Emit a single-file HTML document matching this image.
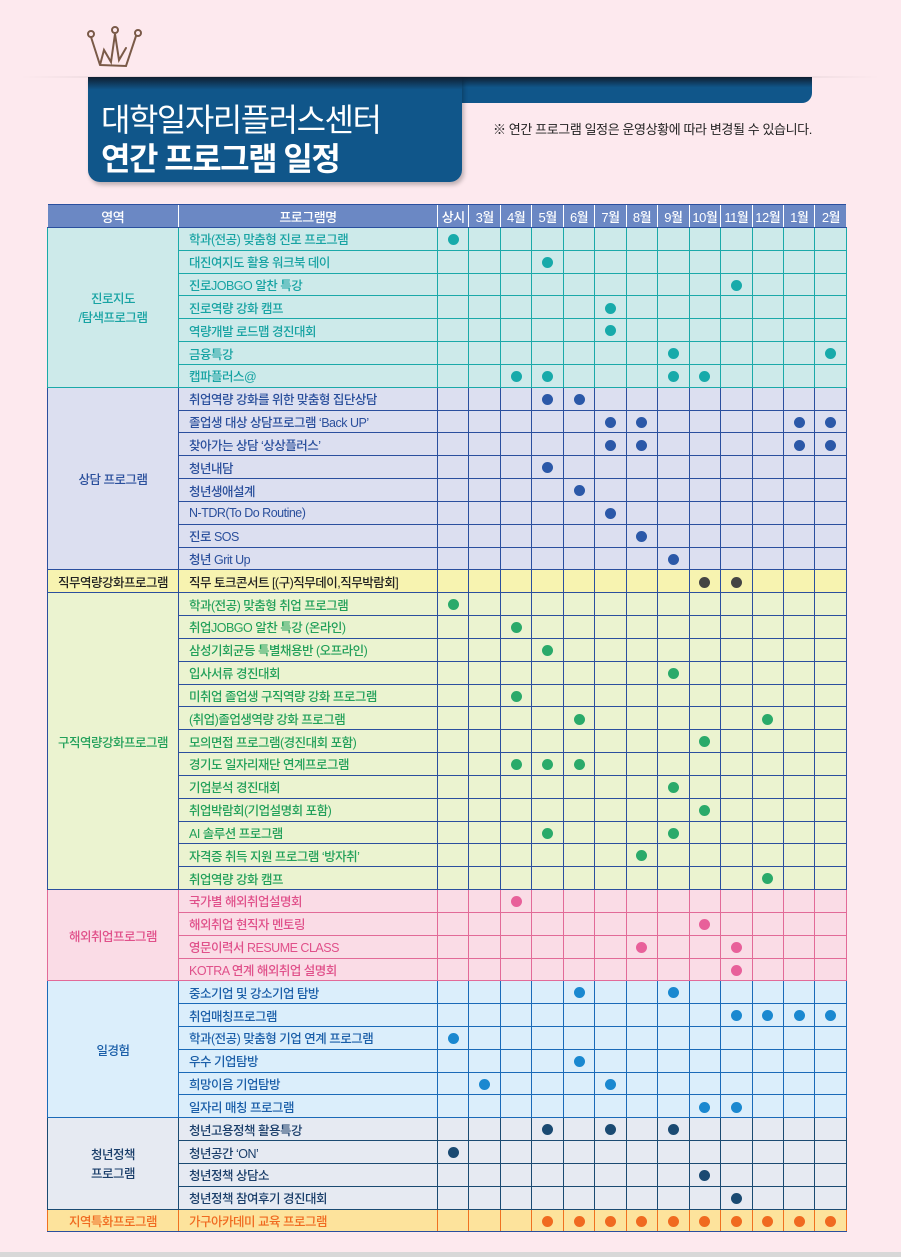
<!DOCTYPE html>
<html><head><meta charset="utf-8">
<style>
body{margin:0;width:901px;height:1257px;background:#fde9ee;position:relative;overflow:hidden;font-family:"Liberation Sans","Noto Sans CJK KR",sans-serif}
.fade{position:absolute;left:20px;top:76px;width:860px;height:2px;background:linear-gradient(90deg,rgba(0,0,0,0),rgba(0,0,0,.12) 20%,rgba(0,0,0,.12) 80%,rgba(0,0,0,0))}
.bar{position:absolute;left:88px;top:77px;width:724px;height:26px;background:linear-gradient(#0f1e30,#10568a 40%);border-radius:0 0 10px 10px}
.box{position:absolute;left:88px;top:77px;width:374px;height:105px;background:linear-gradient(#0f1e30,#10568a 12%);border-radius:0 0 12px 12px;box-shadow:2px 3px 4px rgba(0,0,0,.25);color:#fff}
.t1{position:absolute;left:13px;top:18px;font-size:32px;letter-spacing:-1.5px}
.t2{position:absolute;left:13px;top:57px;font-size:32px;font-weight:bold;letter-spacing:-1.5px}
.note{position:absolute;left:493px;top:119px;font-size:13px;color:#222;letter-spacing:-.4px}
table{position:absolute;left:47px;top:204px;width:799px;border-collapse:collapse;table-layout:fixed;font-size:12.5px;letter-spacing:-.5px;font-weight:500}
th{background:#6b88c4;color:#fff;font-weight:500;height:22px;border-left:1.5px solid #fff;border-bottom:1.5px solid #2a4f9e;border-top:1.5px solid #2a4f9e;padding:0;font-size:13px}
th:first-child{border-left:none}
td{height:21.84px;padding:0;text-align:center;border:1px solid}
td.n{text-align:left;padding-left:10px;white-space:nowrap;overflow:hidden}
td i{display:inline-block;width:11px;height:11px;border-radius:50%;vertical-align:middle}
.a td{background:#cdeaea;border-color:#1aa9a9;color:#17a3a3}.a i{background:#17aaaa}
.b td{background:#dcdff0;border-color:#2b4f9e;color:#2a4f9c}.b i{background:#2b58a8}
.c td{background:#f7f3b0;border-color:#2b4f9e;color:#222}.c i{background:#444}
.d td{background:#ebf3d0;border-color:#2b4f9e;color:#22a05a}.d i{background:#2aaa6a}
.e td{background:#fadce6;border-color:#e26a98;color:#e0508a}.e i{background:#e8609a}
.f td{background:#dbeefb;border-color:#1a6ab8;color:#1a5ea8}.f i{background:#1a88d0}
.g td{background:#e6eaf2;border-color:#1a4a72;color:#1a3e6a}.g i{background:#1a4a72}
.h td{background:#fde39c;border-color:#f07020;color:#f06a20}.h i{background:#f06a20}
.h td{border-bottom-color:#2a4f9e}
.s td{border-top:1.5px solid #2a4f9e}
.gray{position:absolute;left:0;top:1252px;width:901px;height:5px;background:#d8d8d8}
</style></head><body>
<svg style="position:absolute;left:86px;top:20px" width="62" height="50" viewBox="0 0 62 50"><g fill="none" stroke="#7a5a48" stroke-width="2" stroke-linecap="round"><path d="M14 45 L5 17 M14 45 L40 46 L50 16 M14 45 L18 30 L25 42 L29 14 L33 40 L40 28"/><circle cx="5" cy="14" r="3"/><circle cx="29" cy="10" r="3"/><circle cx="52" cy="13" r="3"/></g></svg>
<div class="fade"></div>
<div class="bar"></div>
<div class="box"><div class="t1">대학일자리플러스센터</div><div class="t2">연간 프로그램 일정</div></div>
<div class="note">※ 연간 프로그램 일정은 운영상황에 따라 변경될 수 있습니다.</div>
<table>
<colgroup><col style="width:131px"><col style="width:259px"><col span="13" style="width:31.46px"></colgroup>
<tr><th>영역</th><th>프로그램명</th><th>상시</th><th>3월</th><th>4월</th><th>5월</th><th>6월</th><th>7월</th><th>8월</th><th>9월</th><th>10월</th><th>11월</th><th>12월</th><th>1월</th><th>2월</th></tr>
<tr class="a"><td rowspan="7">진로지도<br>/탐색프로그램</td><td class="n">학과(전공) 맞춤형 진로 프로그램</td><td><i></i></td><td></td><td></td><td></td><td></td><td></td><td></td><td></td><td></td><td></td><td></td><td></td><td></td></tr>
<tr class="a"><td class="n">대진여지도 활용 워크북 데이</td><td></td><td></td><td></td><td><i></i></td><td></td><td></td><td></td><td></td><td></td><td></td><td></td><td></td><td></td></tr>
<tr class="a"><td class="n">진로JOBGO 알찬 특강</td><td></td><td></td><td></td><td></td><td></td><td></td><td></td><td></td><td></td><td><i></i></td><td></td><td></td><td></td></tr>
<tr class="a"><td class="n">진로역량 강화 캠프</td><td></td><td></td><td></td><td></td><td></td><td><i></i></td><td></td><td></td><td></td><td></td><td></td><td></td><td></td></tr>
<tr class="a"><td class="n">역량개발 로드맵 경진대회</td><td></td><td></td><td></td><td></td><td></td><td><i></i></td><td></td><td></td><td></td><td></td><td></td><td></td><td></td></tr>
<tr class="a"><td class="n">금융특강</td><td></td><td></td><td></td><td></td><td></td><td></td><td></td><td><i></i></td><td></td><td></td><td></td><td></td><td><i></i></td></tr>
<tr class="a"><td class="n">캡파플러스@</td><td></td><td></td><td><i></i></td><td><i></i></td><td></td><td></td><td></td><td><i></i></td><td><i></i></td><td></td><td></td><td></td><td></td></tr>
<tr class="b s"><td rowspan="8">상담 프로그램</td><td class="n">취업역량 강화를 위한 맞춤형 집단상담</td><td></td><td></td><td></td><td><i></i></td><td><i></i></td><td></td><td></td><td></td><td></td><td></td><td></td><td></td><td></td></tr>
<tr class="b"><td class="n">졸업생 대상 상담프로그램 ‘Back UP’</td><td></td><td></td><td></td><td></td><td></td><td><i></i></td><td><i></i></td><td></td><td></td><td></td><td></td><td><i></i></td><td><i></i></td></tr>
<tr class="b"><td class="n">찾아가는 상담 ‘상상플러스’</td><td></td><td></td><td></td><td></td><td></td><td><i></i></td><td><i></i></td><td></td><td></td><td></td><td></td><td><i></i></td><td><i></i></td></tr>
<tr class="b"><td class="n">청년내담</td><td></td><td></td><td></td><td><i></i></td><td></td><td></td><td></td><td></td><td></td><td></td><td></td><td></td><td></td></tr>
<tr class="b"><td class="n">청년생애설계</td><td></td><td></td><td></td><td></td><td><i></i></td><td></td><td></td><td></td><td></td><td></td><td></td><td></td><td></td></tr>
<tr class="b"><td class="n">N-TDR(To Do Routine)</td><td></td><td></td><td></td><td></td><td></td><td><i></i></td><td></td><td></td><td></td><td></td><td></td><td></td><td></td></tr>
<tr class="b"><td class="n">진로 SOS</td><td></td><td></td><td></td><td></td><td></td><td></td><td><i></i></td><td></td><td></td><td></td><td></td><td></td><td></td></tr>
<tr class="b"><td class="n">청년 Grit Up</td><td></td><td></td><td></td><td></td><td></td><td></td><td></td><td><i></i></td><td></td><td></td><td></td><td></td><td></td></tr>
<tr class="c s"><td>직무역량강화프로그램</td><td class="n">직무 토크콘서트 [(구)직무데이,직무박람회]</td><td></td><td></td><td></td><td></td><td></td><td></td><td></td><td></td><td><i></i></td><td><i></i></td><td></td><td></td><td></td></tr>
<tr class="d s"><td rowspan="13">구직역량강화프로그램</td><td class="n">학과(전공) 맞춤형 취업 프로그램</td><td><i></i></td><td></td><td></td><td></td><td></td><td></td><td></td><td></td><td></td><td></td><td></td><td></td><td></td></tr>
<tr class="d"><td class="n">취업JOBGO 알찬 특강 (온라인)</td><td></td><td></td><td><i></i></td><td></td><td></td><td></td><td></td><td></td><td></td><td></td><td></td><td></td><td></td></tr>
<tr class="d"><td class="n">삼성기회균등 특별채용반 (오프라인)</td><td></td><td></td><td></td><td><i></i></td><td></td><td></td><td></td><td></td><td></td><td></td><td></td><td></td><td></td></tr>
<tr class="d"><td class="n">입사서류 경진대회</td><td></td><td></td><td></td><td></td><td></td><td></td><td></td><td><i></i></td><td></td><td></td><td></td><td></td><td></td></tr>
<tr class="d"><td class="n">미취업 졸업생 구직역량 강화 프로그램</td><td></td><td></td><td><i></i></td><td></td><td></td><td></td><td></td><td></td><td></td><td></td><td></td><td></td><td></td></tr>
<tr class="d"><td class="n">(취업)졸업생역량 강화 프로그램</td><td></td><td></td><td></td><td></td><td><i></i></td><td></td><td></td><td></td><td></td><td></td><td><i></i></td><td></td><td></td></tr>
<tr class="d"><td class="n">모의면접 프로그램(경진대회 포함)</td><td></td><td></td><td></td><td></td><td></td><td></td><td></td><td></td><td><i></i></td><td></td><td></td><td></td><td></td></tr>
<tr class="d"><td class="n">경기도 일자리재단 연계프로그램</td><td></td><td></td><td><i></i></td><td><i></i></td><td><i></i></td><td></td><td></td><td></td><td></td><td></td><td></td><td></td><td></td></tr>
<tr class="d"><td class="n">기업분석 경진대회</td><td></td><td></td><td></td><td></td><td></td><td></td><td></td><td><i></i></td><td></td><td></td><td></td><td></td><td></td></tr>
<tr class="d"><td class="n">취업박람회(기업설명회 포함)</td><td></td><td></td><td></td><td></td><td></td><td></td><td></td><td></td><td><i></i></td><td></td><td></td><td></td><td></td></tr>
<tr class="d"><td class="n">AI 솔루션 프로그램</td><td></td><td></td><td></td><td><i></i></td><td></td><td></td><td></td><td><i></i></td><td></td><td></td><td></td><td></td><td></td></tr>
<tr class="d"><td class="n">자격증 취득 지원 프로그램 ‘방자취’</td><td></td><td></td><td></td><td></td><td></td><td></td><td><i></i></td><td></td><td></td><td></td><td></td><td></td><td></td></tr>
<tr class="d"><td class="n">취업역량 강화 캠프</td><td></td><td></td><td></td><td></td><td></td><td></td><td></td><td></td><td></td><td></td><td><i></i></td><td></td><td></td></tr>
<tr class="e s"><td rowspan="4">해외취업프로그램</td><td class="n">국가별 해외취업설명회</td><td></td><td></td><td><i></i></td><td></td><td></td><td></td><td></td><td></td><td></td><td></td><td></td><td></td><td></td></tr>
<tr class="e"><td class="n">해외취업 현직자 멘토링</td><td></td><td></td><td></td><td></td><td></td><td></td><td></td><td></td><td><i></i></td><td></td><td></td><td></td><td></td></tr>
<tr class="e"><td class="n">영문이력서 RESUME CLASS</td><td></td><td></td><td></td><td></td><td></td><td></td><td><i></i></td><td></td><td></td><td><i></i></td><td></td><td></td><td></td></tr>
<tr class="e"><td class="n">KOTRA 연계 해외취업 설명회</td><td></td><td></td><td></td><td></td><td></td><td></td><td></td><td></td><td></td><td><i></i></td><td></td><td></td><td></td></tr>
<tr class="f s"><td rowspan="6">일경험</td><td class="n">중소기업 및 강소기업 탐방</td><td></td><td></td><td></td><td></td><td><i></i></td><td></td><td></td><td><i></i></td><td></td><td></td><td></td><td></td><td></td></tr>
<tr class="f"><td class="n">취업매칭프로그램</td><td></td><td></td><td></td><td></td><td></td><td></td><td></td><td></td><td></td><td><i></i></td><td><i></i></td><td><i></i></td><td><i></i></td></tr>
<tr class="f"><td class="n">학과(전공) 맞춤형 기업 연계 프로그램</td><td><i></i></td><td></td><td></td><td></td><td></td><td></td><td></td><td></td><td></td><td></td><td></td><td></td><td></td></tr>
<tr class="f"><td class="n">우수 기업탐방</td><td></td><td></td><td></td><td></td><td><i></i></td><td></td><td></td><td></td><td></td><td></td><td></td><td></td><td></td></tr>
<tr class="f"><td class="n">희망이음 기업탐방</td><td></td><td><i></i></td><td></td><td></td><td></td><td><i></i></td><td></td><td></td><td></td><td></td><td></td><td></td><td></td></tr>
<tr class="f"><td class="n">일자리 매칭 프로그램</td><td></td><td></td><td></td><td></td><td></td><td></td><td></td><td></td><td><i></i></td><td><i></i></td><td></td><td></td><td></td></tr>
<tr class="g s"><td rowspan="4">청년정책<br>프로그램</td><td class="n">청년고용정책 활용특강</td><td></td><td></td><td></td><td><i></i></td><td></td><td><i></i></td><td></td><td><i></i></td><td></td><td></td><td></td><td></td><td></td></tr>
<tr class="g"><td class="n">청년공간 ‘ON’</td><td><i></i></td><td></td><td></td><td></td><td></td><td></td><td></td><td></td><td></td><td></td><td></td><td></td><td></td></tr>
<tr class="g"><td class="n">청년정책 상담소</td><td></td><td></td><td></td><td></td><td></td><td></td><td></td><td></td><td><i></i></td><td></td><td></td><td></td><td></td></tr>
<tr class="g"><td class="n">청년정책 참여후기 경진대회</td><td></td><td></td><td></td><td></td><td></td><td></td><td></td><td></td><td></td><td><i></i></td><td></td><td></td><td></td></tr>
<tr class="h s"><td>지역특화프로그램</td><td class="n">가구아카데미 교육 프로그램</td><td></td><td></td><td></td><td><i></i></td><td><i></i></td><td><i></i></td><td><i></i></td><td><i></i></td><td><i></i></td><td><i></i></td><td><i></i></td><td><i></i></td><td><i></i></td></tr>
</table>
<div class="gray"></div>
</body></html>
